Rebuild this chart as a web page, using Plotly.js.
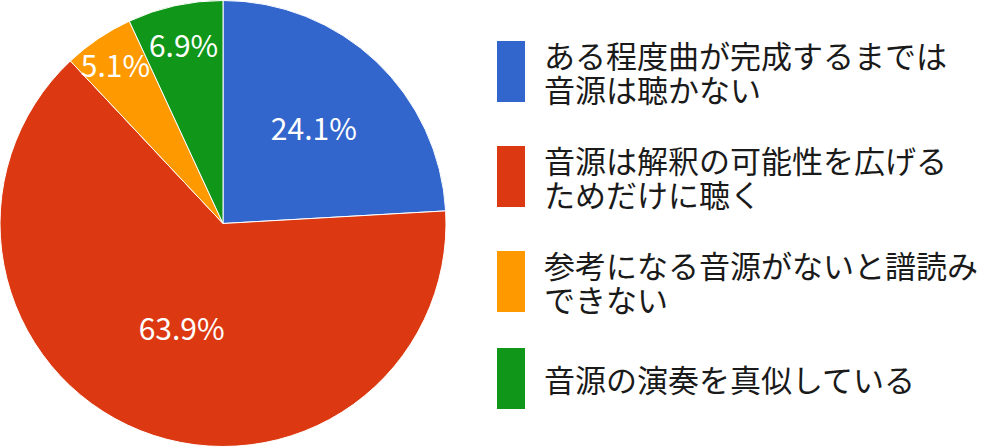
<!DOCTYPE html>
<html><head><meta charset="utf-8">
<script src="https://cdn.plot.ly/plotly-3.0.1.min.js"></script>
<style>html,body{margin:0;padding:0;background:#fff}#chart{width:981px;height:447px}</style>
</head><body><div id="chart"></div>
<script>
var labels = [
  "ある程度曲が完成するまでは<br>音源は聴かない",
  "音源は解釈の可能性を広げる<br>ためだけに聴く",
  "参考になる音源がないと譜読み<br>できない",
  "音源の演奏を真似している"
];
var values = [24.1, 63.9, 5.1, 6.9];
var colors = ["#3366cc", "#dc3912", "#ff9900", "#109618"];

var FONT = "'Noto Sans CJK JP', 'Noto Sans', sans-serif";

var trace = {
  type: "pie",
  labels: labels,
  values: values,
  sort: false,
  direction: "clockwise",
  rotation: 0,
  marker: {colors: colors, line: {color: "#ffffff", width: 1}},
  textinfo: "percent",
  texttemplate: "%{percent:.1%}",
  textposition: "inside",
  insidetextorientation: "horizontal",
  textfont: {family: FONT, size: 30, color: "#ffffff"},
  showlegend: false,
  hoverinfo: "label+percent",
  domain: {x: [0, 446/981], y: [0, 1]}
};

// Custom legend (tall swatches + wrapped text)
var shapes = [], annotations = [];
var swatchTop = [41, 146, 251, 348];
var swatchH = 61;
labels.forEach(function (lab, i) {
  var y0 = swatchTop[i], y1 = y0 + swatchH;
  shapes.push({type: "rect", xref: "paper", yref: "paper",
    x0: 497/981, x1: 525/981, y0: 1 - y1/447, y1: 1 - y0/447,
    fillcolor: colors[i], line: {width: 0}});
  var lines = lab.split("<br>");
  var mid = (y0 + y1) / 2;
  var spacing = 33.5;
  lines.forEach(function (ln, j) {
    var yc = mid + (j - (lines.length - 1) / 2) * spacing;
    annotations.push({xref: "paper", yref: "paper", x: 542/981, y: 1 - yc/447,
      xanchor: "left", yanchor: "middle", showarrow: false, text: ln,
      font: {family: FONT, size: 31, color: "#1a1a1a"}});
  });
});

var layout = {
  width: 981, height: 447,
  margin: {l: 0, r: 0, t: 0, b: 0},
  paper_bgcolor: "#ffffff",
  shapes: shapes,
  annotations: annotations,
  uniformtext: {minsize: 30, mode: "show"},
  font: {family: FONT}
};
Plotly.newPlot("chart", [trace], layout, {displayModeBar: false, staticPlot: true});
</script></body></html>
